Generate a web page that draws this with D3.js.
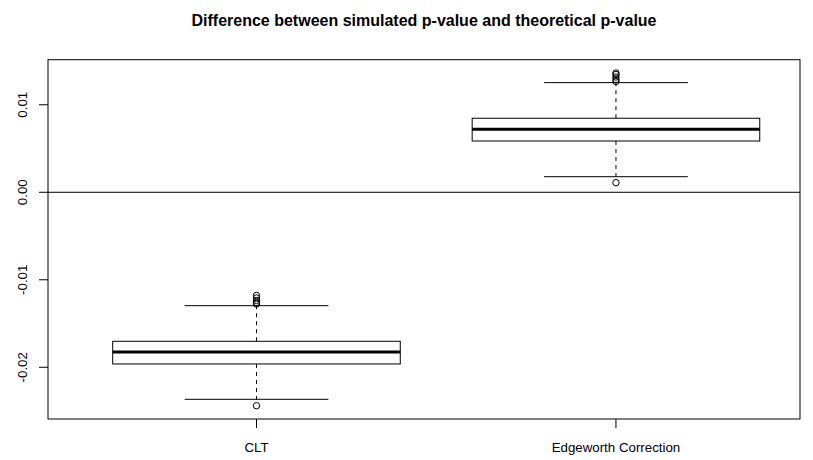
<!DOCTYPE html>
<html>
<head>
<meta charset="utf-8">
<script src="https://cdn.jsdelivr.net/npm/d3@7"></script>
<style>
  html, body { margin: 0; padding: 0; background: #fff; }
  svg { display: block; }
  text { font-family: "Liberation Sans", Arial, Helvetica, sans-serif; fill: #000; }
</style>
</head>
<body>
<svg id="chart" width="813" height="460"></svg>
<script>
// Boxplot summaries for each method
const categories = ["CLT", "Edgeworth Correction"];
const lowerWhisker = [-0.02366, 0.00178];
const q1 = [-0.01962, 0.00586];
const median = [-0.01825, 0.00720];
const q3 = [-0.01703, 0.00846];
const upperWhisker = [-0.01296, 0.01253];
const outliers = [
  [-0.02439, -0.01277, -0.01259, -0.01237, -0.01208, -0.01179],
  [0.00110, 0.01266, 0.01289, 0.01317, 0.01346, 0.01363]
];
const yTicks = [-0.02, -0.01, 0.00, 0.01];
const yTickLabels = ["-0.02", "-0.01", "0.00", "0.01"];
const title = "Difference between simulated p-value and theoretical p-value";

const svg = d3.select("#chart");
const plot = { left: 48, right: 800, top: 59.7, bottom: 419 };
const labelSize = 13.3;

// Data range padded by 4% on each side
const dataMin = d3.min(outliers.flat().concat(lowerWhisker));
const dataMax = d3.max(outliers.flat().concat(upperWhisker));
const pad = (dataMax - dataMin) * 0.04;

const x = d3.scaleLinear().domain([0.42, 2.512]).range([plot.left, plot.right]);
const y = d3.scaleLinear().domain([dataMin - pad, dataMax + pad]).range([plot.bottom, plot.top]);

const boxHalf = 0.4, capHalf = 0.2;

// Reference line at zero
svg.append("line")
  .attr("x1", plot.left).attr("x2", plot.right)
  .attr("y1", y(0)).attr("y2", y(0))
  .attr("stroke", "#000").attr("stroke-width", 1);

const g = svg.append("g");
categories.forEach((c, i) => {
  const cx = x(i + 1);
  // dashed whiskers
  g.append("line").attr("x1", cx).attr("x2", cx)
    .attr("y1", y(q3[i])).attr("y2", y(upperWhisker[i]))
    .attr("stroke", "#000").attr("stroke-dasharray", "4,4");
  g.append("line").attr("x1", cx).attr("x2", cx)
    .attr("y1", y(q1[i])).attr("y2", y(lowerWhisker[i]))
    .attr("stroke", "#000").attr("stroke-dasharray", "4,4");
  // whisker caps
  [upperWhisker[i], lowerWhisker[i]].forEach(v => {
    g.append("line").attr("x1", x(i + 1 - capHalf)).attr("x2", x(i + 1 + capHalf))
      .attr("y1", y(v)).attr("y2", y(v)).attr("stroke", "#000");
  });
  // box
  g.append("rect")
    .attr("x", x(i + 1 - boxHalf)).attr("width", x(i + 1 + boxHalf) - x(i + 1 - boxHalf))
    .attr("y", y(q3[i])).attr("height", y(q1[i]) - y(q3[i]))
    .attr("fill", "#fff").attr("stroke", "#000");
  // median
  g.append("line").attr("x1", x(i + 1 - boxHalf)).attr("x2", x(i + 1 + boxHalf))
    .attr("y1", y(median[i])).attr("y2", y(median[i]))
    .attr("stroke", "#000").attr("stroke-width", 3);
  // outliers
  g.selectAll(null).data(outliers[i]).enter().append("circle")
    .attr("cx", cx).attr("cy", d => y(d)).attr("r", 3.2)
    .attr("fill", "none").attr("stroke", "#000");
});

// Frame
svg.append("rect")
  .attr("x", plot.left).attr("y", plot.top)
  .attr("width", plot.right - plot.left).attr("height", plot.bottom - plot.top)
  .attr("fill", "none").attr("stroke", "#000");

// Y axis ticks and rotated labels
const yAxis = svg.append("g");
yTicks.forEach((t, i) => {
  yAxis.append("line").attr("x1", plot.left - 9).attr("x2", plot.left)
    .attr("y1", y(t)).attr("y2", y(t)).attr("stroke", "#000");
  yAxis.append("text")
    .attr("transform", `translate(${plot.left - 21},${y(t)}) rotate(-90)`)
    .attr("text-anchor", "middle")
    .attr("font-size", labelSize)
    .text(yTickLabels[i]);
});

// X axis ticks and labels
const xAxis = svg.append("g");
categories.forEach((c, i) => {
  const cx = x(i + 1);
  xAxis.append("line").attr("x1", cx).attr("x2", cx)
    .attr("y1", plot.bottom).attr("y2", plot.bottom + 9).attr("stroke", "#000");
  xAxis.append("text")
    .attr("x", cx).attr("y", plot.bottom + 33)
    .attr("text-anchor", "middle").attr("font-size", labelSize)
    .text(c);
});

// Title
svg.append("text")
  .attr("x", (plot.left + plot.right) / 2).attr("y", 26)
  .attr("text-anchor", "middle")
  .attr("font-size", 16).attr("font-weight", "bold")
  .text(title);
</script>
</body>
</html>
